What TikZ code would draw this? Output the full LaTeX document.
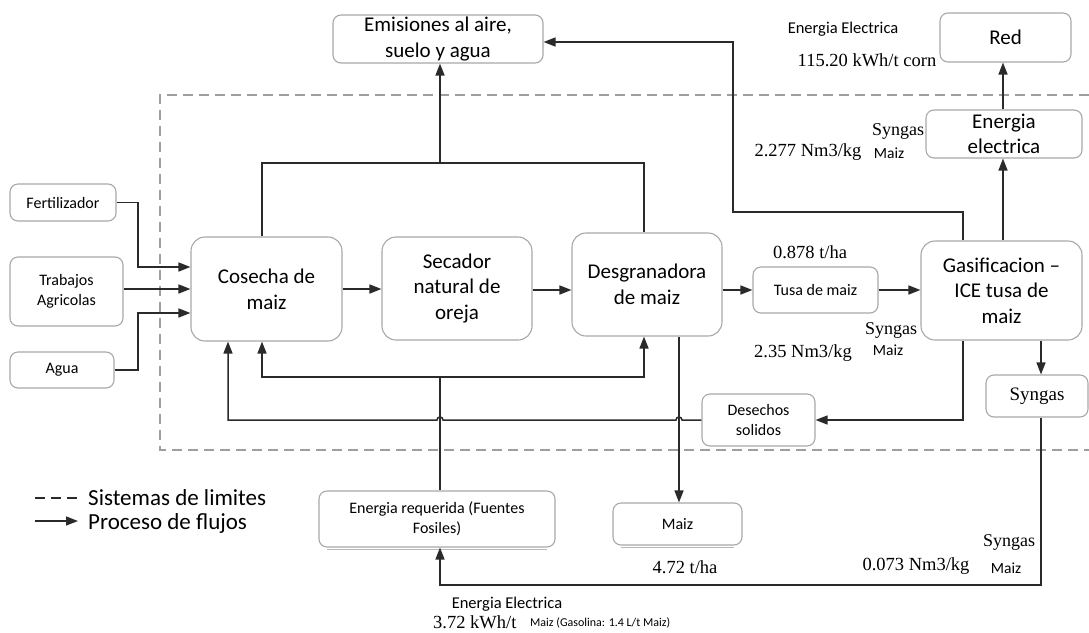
\documentclass[tikz,border=0pt]{standalone}
\usepackage{fontspec}
\setmainfont{Carlito}
\newfontfamily\seriffont{Liberation Serif}
\usetikzlibrary{arrows.meta,calc}
\definecolor{boxgray}{HTML}{A8A8A8}
\definecolor{linec}{HTML}{2A2A2A}
\definecolor{dashc}{HTML}{9E9E9E}
\begin{document}
\begin{tikzpicture}[x=1pt,y=-1pt,
  bigbox/.style={draw=boxgray, line width=1.1pt, rounded corners=14pt, fill=white, align=center, inner sep=0pt, font=\fontsize{21}{25.6}\selectfont},
  midbox/.style={draw=boxgray, line width=1.1pt, rounded corners=8pt, fill=white, align=center, inner sep=0pt, font=\fontsize{21}{25.6}\selectfont},
  smallbox/.style={draw=boxgray, line width=1.1pt, rounded corners=8pt, fill=white, align=center, inner sep=0pt, font=\fontsize{16}{19.5}\selectfont},
  conn/.style={draw=linec, line width=1.5pt},
  flow/.style={conn, -{Triangle[length=12pt,width=9pt]}},
  shade/.style={draw=gray!55, line width=1.2pt},
  serlab/.style={inner sep=0pt, font=\seriffont\fontsize{18.5}{22}\selectfont},
  sanlab/.style={inner sep=0pt, font=\fontsize{16.5}{20}\selectfont},
  tinylab/.style={inner sep=0pt, font=\fontsize{15.5}{18}\selectfont},
  leglab/.style={inner sep=0pt, anchor=west, font=\fontsize{23}{27}\selectfont}
]
\useasboundingbox (0,0) rectangle (1089,632);

% system boundary
\draw[dashc, line width=1.2pt, dash pattern=on 10pt off 6pt] (1089,95) -- (160,95) -- (160,450) -- (1089,450);

% boxes
\node[midbox, minimum width=210, minimum height=48] (emis) at (438,39) {Emisiones al aire,\\suelo y agua};
\node[midbox, minimum width=131, minimum height=49] (red) at (1005.5,37.5) {Red};
\node[midbox, minimum width=156, minimum height=48] (elec) at (1004,134) {Energia\\electrica};
\node[smallbox, minimum width=106, minimum height=37] (fert) at (63,202.5) {Fertilizador};
\node[smallbox, minimum width=113, minimum height=69] (trab) at (66.5,291.5) {Trabajos\\Agricolas};
\node[smallbox, minimum width=104, minimum height=36] (agua) at (62,370) {Agua};
\node[bigbox, minimum width=151, minimum height=104] (cos) at (266.5,289) {Cosecha de\\maiz};
\node[bigbox, minimum width=150, minimum height=103] (sec) at (457,288.5) {Secador\\natural de\\oreja};
\node[bigbox, minimum width=150, minimum height=103] (des) at (647,284.5) {Desgranadora\\de maiz};
\node[smallbox, minimum width=125, minimum height=46] (tusa) at (815.5,290) {Tusa de maiz};
\node[bigbox, minimum width=161, minimum height=99] (gas) at (1001.5,290.5) {Gasificacion --\\ICE tusa de\\maiz};
\node[smallbox, minimum width=102, minimum height=42, font=\seriffont\fontsize{19}{22}\selectfont] (syn) at (1037,396) {Syngas};
\node[smallbox, minimum width=113, minimum height=52] (desech) at (758.5,420) {Desechos\\solidos};
\node[smallbox, minimum width=236, minimum height=56] (req) at (437,519) {Energia requerida (Fuentes\\Fosiles)};
\node[smallbox, minimum width=129, minimum height=42] (maiz) at (677.5,524) {Maiz};
\draw[shade] ($(req.south west)+(9,1.6)$) -- ($(req.south east)+(-9,1.6)$);
\draw[shade] ($(maiz.south west)+(9,1.6)$) -- ($(maiz.south east)+(-9,1.6)$);

% inputs to Cosecha
\draw[flow] (fert.east) -| (138,267) -- (cos.west |- 0,267);
\draw[flow] (trab.east |- 0,289) -- (cos.west |- 0,289);
\draw[flow] (agua.east) -| (138,313) -- (cos.west |- 0,313);

% main chain
\draw[flow] (cos.east |- 0,289) -- (sec.west |- 0,289);
\draw[flow] (sec.east |- 0,290) -- (des.west |- 0,290);
\draw[flow] (des.east |- 0,290) -- (tusa.west);
\draw[flow] (tusa.east) -- (gas.west |- tusa.east);

% emissions
\draw[conn] (cos.north -| 262,0) -- (262,163) -- (644,163) -- (des.north -| 644,0);
\draw[flow] (440,163) -- (emis.south -| 440,0);
\draw[flow] (gas.north -| 963,0) -- (963,212) -- (733,212) -- (733,42) -- (emis.east |- 0,42);

% electricity
\draw[flow] (gas.north -| 1003,0) -- (elec.south -| 1003,0);
\draw[flow] (elec.north -| 1003,0) -- (red.south -| 1003,0);

% gasification outputs
\draw[flow] (gas.south -| 963,0) -- (963,420) -- (desech.east);
\draw[flow] (gas.south -| 1041,0) -- (syn.north -| 1041,0);
\draw[flow] (syn.south -| 1041,0) -- (1041,585) -- (440,585) -- (req.south -| 440,0);

% required energy distribution
\draw[flow] (req.north -| 440,0) -- (440,377) -- (262,377) -- (cos.south -| 262,0);
\draw[flow] (440,377) -- (644,377) -- (des.south -| 644,0);

% solid waste return with hops
\draw[flow] (desech.west) -- (682,420) arc[start angle=0,end angle=-180,radius=3] -- (443,420) arc[start angle=0,end angle=-180,radius=3] -- (228,420) -- (cos.south -| 228,0);

% grain
\draw[flow] (des.south -| 679,0) -- (maiz.north -| 679,0);

% labels
\node[sanlab] (l1) at (843,29) {Energia Electrica};
\node[serlab] (l2) at (867,60) {115.20 kWh/t corn};
\node[serlab, font=\seriffont\fontsize{18}{22}\selectfont] (l3) at (898,131) {Syngas};
\node[serlab] (l4) at (808,152) {2.277 Nm3/kg};
\node[tinylab] (l5) at (889,153) {Maiz};
\node[serlab] (l6) at (810,252) {0.878 t/ha};
\node[serlab, font=\seriffont\fontsize{18}{22}\selectfont] (l7) at (891,330) {Syngas};
\node[tinylab] (l8) at (888,350) {Maiz};
\node[serlab] (l9) at (803,353) {2.35 Nm3/kg};
\node[serlab, font=\seriffont\fontsize{18}{22}\selectfont] (l10) at (1009,542) {Syngas};
\node[serlab] (l11) at (916,566) {0.073 Nm3/kg};
\node[tinylab] (l12) at (1006,568) {Maiz};
\node[serlab] (l13) at (685,567) {4.72 t/ha};
\node[sanlab] (l14) at (507,604) {Energia Electrica};
\node[serlab, anchor=west] (l15) at (433,622) {3.72 kWh/t};
\node[inner sep=0pt, anchor=west, font=\fontsize{12}{14}\selectfont] (l16) at (530,623) {Maiz (Gasolina: 1.4 L/t Maiz)};

% legend
\coordinate (lg1a) at (35,498);
\coordinate (lg1b) at (78,498);
\coordinate (lg2a) at (35,521);
\coordinate (lg2b) at (78,521);
\draw[linec, line width=1.3pt, dash pattern=on 10pt off 6pt] (lg1a) -- (lg1b);
\draw[flow] (lg2a) -- (lg2b);
\node[leglab] (leg1) at (88,498) {Sistemas de limites};
\node[leglab] (leg2) at (88,523) {Proceso de flujos};
\end{tikzpicture}
\end{document}
